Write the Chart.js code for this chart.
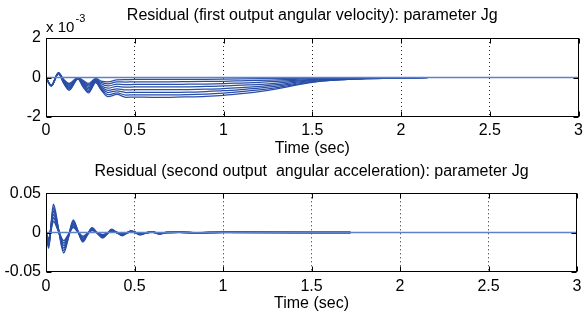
<!DOCTYPE html>
<html><head><meta charset="utf-8">
<script src="https://cdn.jsdelivr.net/npm/chart.js@4"></script>
<style>
html,body{margin:0;padding:0;background:#fff;width:587px;height:314px;overflow:hidden}
.w{position:absolute;left:0;width:587px;height:157px}
</style></head><body>
<div class="w" style="top:0"><canvas id="c1"></canvas></div>
<div class="w" style="top:157px"><canvas id="c2"></canvas></div>
<script>
// ---------- data ----------
const xTicks = [0, 0.5, 1, 1.5, 2, 2.5, 3];
const xTickLabels = ['0', '0.5', '1', '1.5', '2', '2.5', '3'];
const yTopTicks = [-2, 0, 2];
const yTopTickLabels = ['-2', '0', '2'];
const yBotTicks = [-0.05, 0, 0.05];
const yBotTickLabels = ['-0.05', '0', '0.05'];

// top: residual of first output (angular velocity), units of 1e-3
const timeTop = [0, 0.03, 0.07, 0.10, 0.13, 0.18, 0.21, 0.24, 0.28, 0.31, 0.35, 0.40, 0.45, 0.50, 0.60, 0.70, 0.80, 0.90, 1.00, 1.10, 1.20, 1.30, 1.40, 1.50, 1.60, 1.70, 1.80, 1.90, 2.00, 2.15];
const velJg1 = [0, -0.40, 0.25, -0.10, -0.30, 0.00, -0.15, -0.30, -0.05, -0.18, -0.22, -0.12, -0.11, -0.10, -0.10, -0.10, -0.10, -0.09, -0.08, -0.07, -0.06, -0.05, -0.04, -0.03, -0.02, -0.01, -0.01, -0.01, 0, 0];
const velJg2 = [0, -0.40, 0.24, -0.13, -0.35, -0.01, -0.20, -0.37, -0.08, -0.25, -0.32, -0.22, -0.23, -0.22, -0.22, -0.22, -0.21, -0.20, -0.19, -0.17, -0.15, -0.12, -0.09, -0.06, -0.04, -0.03, -0.02, -0.01, -0.01, 0];
const velJg3 = [0, -0.41, 0.23, -0.16, -0.40, -0.02, -0.25, -0.44, -0.11, -0.32, -0.43, -0.33, -0.36, -0.35, -0.35, -0.35, -0.34, -0.33, -0.31, -0.28, -0.25, -0.20, -0.14, -0.09, -0.06, -0.04, -0.03, -0.02, -0.01, 0];
const velJg4 = [0, -0.41, 0.22, -0.19, -0.45, -0.03, -0.30, -0.51, -0.14, -0.40, -0.54, -0.45, -0.49, -0.48, -0.48, -0.48, -0.47, -0.45, -0.43, -0.39, -0.35, -0.28, -0.20, -0.12, -0.08, -0.05, -0.04, -0.03, -0.02, 0];
const velJg5 = [0, -0.42, 0.21, -0.22, -0.50, -0.04, -0.35, -0.58, -0.17, -0.47, -0.65, -0.57, -0.63, -0.62, -0.62, -0.62, -0.61, -0.59, -0.56, -0.51, -0.45, -0.36, -0.25, -0.16, -0.10, -0.06, -0.04, -0.03, -0.02, 0];
const velJg6 = [0, -0.42, 0.20, -0.25, -0.55, -0.05, -0.40, -0.65, -0.20, -0.53, -0.76, -0.68, -0.76, -0.75, -0.75, -0.75, -0.74, -0.71, -0.67, -0.61, -0.54, -0.44, -0.31, -0.19, -0.12, -0.07, -0.05, -0.04, -0.02, 0];
const velJg7 = [0, -0.43, 0.19, -0.28, -0.60, -0.06, -0.45, -0.72, -0.23, -0.58, -0.87, -0.78, -0.89, -0.88, -0.88, -0.88, -0.87, -0.84, -0.79, -0.72, -0.63, -0.51, -0.36, -0.22, -0.14, -0.09, -0.06, -0.04, -0.03, -0.01];
const velJg8 = [0, -0.43, 0.18, -0.30, -0.65, -0.08, -0.50, -0.78, -0.26, -0.62, -0.97, -0.86, -1.00, -0.99, -1.00, -1.00, -0.98, -0.95, -0.90, -0.82, -0.72, -0.58, -0.40, -0.25, -0.15, -0.10, -0.07, -0.05, -0.03, -0.01];
const nominalTime = [0, 3];
const nominalVel = [0, 0];

// bottom: residual of second output (angular acceleration)
const timeBot = [0, 0.015, 0.028, 0.042, 0.07, 0.10, 0.128, 0.154, 0.18, 0.208, 0.234, 0.26, 0.29, 0.32, 0.345, 0.37, 0.40, 0.43, 0.455, 0.48, 0.505, 0.53, 0.56, 0.60, 0.64, 0.68, 0.75, 0.85, 1.00, 1.72];
const accJg1 = [0, -0.0200, 0.0080, 0.0360, 0.0050, -0.0260, -0.0050, 0.0160, 0.0020, -0.0120, -0.0030, 0.0060, -0.0010, -0.0070, -0.0020, 0.0040, 0.0000, -0.0040, -0.0010, 0.0020, 0.0000, -0.0030, -0.0010, 0.0010, -0.0020, 0.0000, 0.0005, -0.0005, 0.0003, 0];
const accJg2 = [0, -0.0176, 0.0070, 0.0317, 0.0044, -0.0229, -0.0044, 0.0141, 0.0018, -0.0106, -0.0026, 0.0053, -0.0009, -0.0062, -0.0018, 0.0035, 0.0000, -0.0035, -0.0009, 0.0018, 0.0000, -0.0026, -0.0009, 0.0009, -0.0018, 0.0000, 0.0004, -0.0004, 0.0003, 0];
const accJg3 = [0, -0.0152, 0.0061, 0.0274, 0.0038, -0.0198, -0.0038, 0.0122, 0.0015, -0.0091, -0.0023, 0.0046, -0.0008, -0.0053, -0.0015, 0.0030, 0.0000, -0.0030, -0.0008, 0.0015, 0.0000, -0.0023, -0.0008, 0.0008, -0.0015, 0.0000, 0.0004, -0.0004, 0.0002, 0];
const accJg4 = [0, -0.0128, 0.0051, 0.0230, 0.0032, -0.0166, -0.0032, 0.0102, 0.0013, -0.0077, -0.0019, 0.0038, -0.0006, -0.0045, -0.0013, 0.0026, 0.0000, -0.0026, -0.0006, 0.0013, 0.0000, -0.0019, -0.0006, 0.0006, -0.0013, 0.0000, 0.0003, -0.0003, 0.0002, 0];
const accJg5 = [0, -0.0104, 0.0042, 0.0187, 0.0026, -0.0135, -0.0026, 0.0083, 0.0010, -0.0062, -0.0016, 0.0031, -0.0005, -0.0036, -0.0010, 0.0021, 0.0000, -0.0021, -0.0005, 0.0010, 0.0000, -0.0016, -0.0005, 0.0005, -0.0010, 0.0000, 0.0003, -0.0003, 0.0002, 0];
const accJg6 = [0, -0.0080, 0.0032, 0.0144, 0.0020, -0.0104, -0.0020, 0.0064, 0.0008, -0.0048, -0.0012, 0.0024, -0.0004, -0.0028, -0.0008, 0.0016, 0.0000, -0.0016, -0.0004, 0.0008, 0.0000, -0.0012, -0.0004, 0.0004, -0.0008, 0.0000, 0.0002, -0.0002, 0.0001, 0];
const nominalAcc = [0, 0];

// ---------- styling ----------
const FONT = "'Liberation Sans', Arial, Helvetica, sans-serif";
const DARK = '#2a4ea6';
const LIGHT = '#5d82c9';

function pts(xs, ys) { return xs.map((x, i) => ({ x: x, y: ys[i] })); }

const boxPlugin = {
  id: 'box',
  afterDatasetsDraw(chart, args, o) {
    const { ctx, chartArea: a } = chart;
    const x = chart.scales.x, y = chart.scales.y;
    const L = Math.round(a.left) + 0.5, R = Math.round(a.right) - 0.5;
    const T = Math.round(a.top) + 0.5, B = Math.round(a.bottom) - 0.5;
    ctx.save();
    ctx.strokeStyle = '#000';
    ctx.lineWidth = 1;
    ctx.setLineDash([]);
    ctx.strokeRect(L, T, R - L, B - T);
    ctx.beginPath();
    x.ticks.forEach(t => {
      const p = Math.round(x.getPixelForValue(t.value)) + 0.5;
      ctx.moveTo(p, B); ctx.lineTo(p, B - 5);
      ctx.moveTo(p, T); ctx.lineTo(p, T + 5);
    });
    y.ticks.forEach(t => {
      const p = Math.round(y.getPixelForValue(t.value)) + 0.5;
      ctx.moveTo(L, p); ctx.lineTo(L + 5, p);
      ctx.moveTo(R, p); ctx.lineTo(R - 5, p);
    });
    ctx.stroke();
    if (o && o.exponent) {
      ctx.fillStyle = '#000';
      ctx.textBaseline = 'alphabetic';
      ctx.textAlign = 'left';
      ctx.font = '15px ' + FONT;
      ctx.fillText('x 10', a.left, a.top - 6);
      const w = ctx.measureText('x 10 ').width;
      ctx.font = '11px ' + FONT;
      ctx.fillText(o.exponent, a.left + w - 3, a.top - 16);
    }
    ctx.restore();
  }
};

function makeChart(id, cfg) {
  const gridColor = (edgeVals) => (c) => (c.tick && edgeVals.includes(c.tick.value)) ? 'rgba(0,0,0,0)' : '#222';
  return new Chart(document.getElementById(id), {
    type: 'line',
    data: { datasets: cfg.datasets },
    plugins: [boxPlugin],
    options: {
      responsive: true,
      maintainAspectRatio: false,
      animation: false,
      devicePixelRatio: 1,
      events: [],
      layout: { padding: { left: 0, right: 8, top: 0, bottom: 0 } },
      elements: { point: { radius: 0 }, line: { borderWidth: 1, cubicInterpolationMode: 'monotone' } },
      plugins: {
        legend: { display: false },
        tooltip: { enabled: false },
        box: { exponent: cfg.exponent },
        title: {
          display: true, text: cfg.title, fullSize: false, color: '#000',
          font: { family: FONT, size: 16, weight: 'normal', lineHeight: 1.2 },
          padding: cfg.titlePad
        }
      },
      scales: {
        x: {
          type: 'linear', min: 0, max: 3,
          afterBuildTicks: s => { s.ticks = xTicks.map(v => ({ value: v })); },
          afterFit: s => { s.height = cfg.xHeight; },
          ticks: { color: '#000', font: { family: FONT, size: 16 }, padding: cfg.xTickPad, maxRotation: 0, autoSkip: false,
                   callback: (v, i) => xTickLabels[i] },
          grid: { color: gridColor([0, 3]), lineWidth: 1, drawTicks: false },
          border: { display: false, dash: [1, 3] },
          title: { display: true, text: 'Time (sec)', color: '#000', font: { family: FONT, size: 16, lineHeight: 1.2 },
                   padding: { top: 0, bottom: cfg.xTitlePad } }
        },
        y: {
          type: 'linear', min: cfg.yTicks[0], max: cfg.yTicks[cfg.yTicks.length - 1],
          afterBuildTicks: s => { s.ticks = cfg.yTicks.map(v => ({ value: v })); },
          afterFit: s => { s.width = 46; },
          ticks: { color: '#000', font: { family: FONT, size: 16 }, padding: 5, autoSkip: false,
                   callback: (v, i) => cfg.yLabels[i] },
          grid: { color: gridColor([cfg.yTicks[0], cfg.yTicks[cfg.yTicks.length - 1]]), lineWidth: 1, drawTicks: false },
          border: { display: false, dash: [1, 3] }
        }
      }
    }
  });
}

const velCurves = [velJg1, velJg2, velJg3, velJg4, velJg5, velJg6, velJg7, velJg8];
const accCurves = [accJg1, accJg2, accJg3, accJg4, accJg5, accJg6];

const topSets = [{ data: pts(nominalTime, nominalVel), borderColor: LIGHT, borderWidth: 1.5 }]
  .concat(velCurves.map(c => ({ data: pts(timeTop, c), borderColor: DARK, borderWidth: 1.25 })));
const botSets = [{ data: pts(nominalTime, nominalAcc), borderColor: LIGHT, borderWidth: 1.6 }]
  .concat(accCurves.map(c => ({ data: pts(timeBot, c), borderColor: DARK, borderWidth: 1.5 })));

makeChart('c1', {
  datasets: topSets,
  title: 'Residual (first output angular velocity): parameter Jg',
  titlePad: { top: 6, bottom: 12.8 },
  xHeight: 40, xTickPad: 4, xTitlePad: -1.6,
  yTicks: yTopTicks, yLabels: yTopTickLabels, exponent: '-3'
});
makeChart('c2', {
  datasets: botSets,
  title: 'Residual (second output  angular acceleration): parameter Jg',
  titlePad: { top: 5.4, bottom: 11.7 },
  xHeight: 42.3, xTickPad: 5.5, xTitlePad: 0.4,
  yTicks: yBotTicks, yLabels: yBotTickLabels, exponent: null
});
</script>
</body></html>
